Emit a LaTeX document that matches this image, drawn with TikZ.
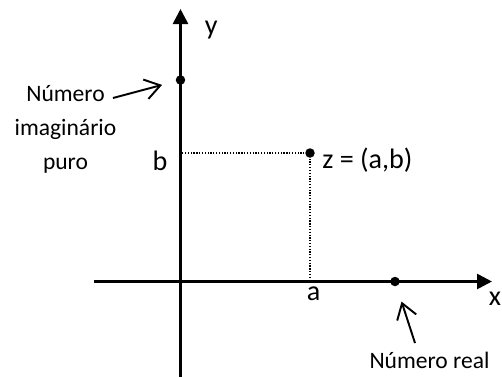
\documentclass[tikz,border=0pt]{standalone}
\usepackage{fontspec}
\setmainfont{Carlito}
\usetikzlibrary{calc, positioning}
\usetikzlibrary{arrows.meta}

\begin{document}
\begin{tikzpicture}[
  font=\fontsize{13.4}{19.3}\selectfont,
  axis/.style={line width=1.5pt,-{Triangle[length=3mm,width=3mm]}},
  pointer/.style={line width=1.1pt,-{Straight Barb[length=3mm,width=4mm,line width=1.1pt]}},
  guide/.style={line width=0.7pt,dash pattern=on 0.7pt off 0.9pt},
  dot/.style={circle,fill,inner sep=0pt,minimum size=1.9mm},
  lbl/.style={inner sep=0pt,anchor=base,font=\fontsize{16}{19}\selectfont}]
\def\xmin{-1.73}
\def\xmax{6.23}
\def\ymin{-1.95}
\def\ymax{5.45}

\useasboundingbox (-3.61,-1.89) rectangle (6.43,5.63);

\coordinate (O) at (0,0);

\draw[axis] (\xmin,0) -- (\xmax,0) coordinate (xend);
\draw[axis] (0,\ymin) -- (0,\ymax) coordinate (yend);
\node[lbl,anchor=base west] (xlab) at ($(xend)+(-0.07,-0.47)$) {x};
\node[lbl,anchor=base west] (ylab) at ($(yend)+(0.48,-0.5)$) {y};

% the point z and its projections
\node[dot] (z) at (2.59,2.57) {};
\draw[guide] (z.center) -- (z.center -| O);
\draw[guide] (z.center) -- (z.center |- O);
\node[lbl] (b) at (-0.41,2.23) {b};
\node[lbl] (a) at (2.66,-0.38) {a};
\node[lbl,anchor=base west] (zlab) at (2.83,2.27) {z = (a,b)};

% pure imaginary number
\node[dot] (yI) at (0,4.03) {};
\node[align=center,inner sep=0pt] (imag) at (-2.3,3.05) {Número\\imaginário\\puro};
\coordinate (imtail) at (-1.35,3.67);
\draw[pointer,shorten >=0.28cm] (imtail) -- (yI);

% real number
\node[dot] (xR) at (4.29,0) {};
\node[inner sep=0pt,anchor=base] (real) at (4.98,-1.73) {Número real};
\coordinate (retail) at (4.69,-1.23);
\draw[pointer,shorten >=0.32cm] (retail) -- (xR);
\end{tikzpicture}
\end{document}
